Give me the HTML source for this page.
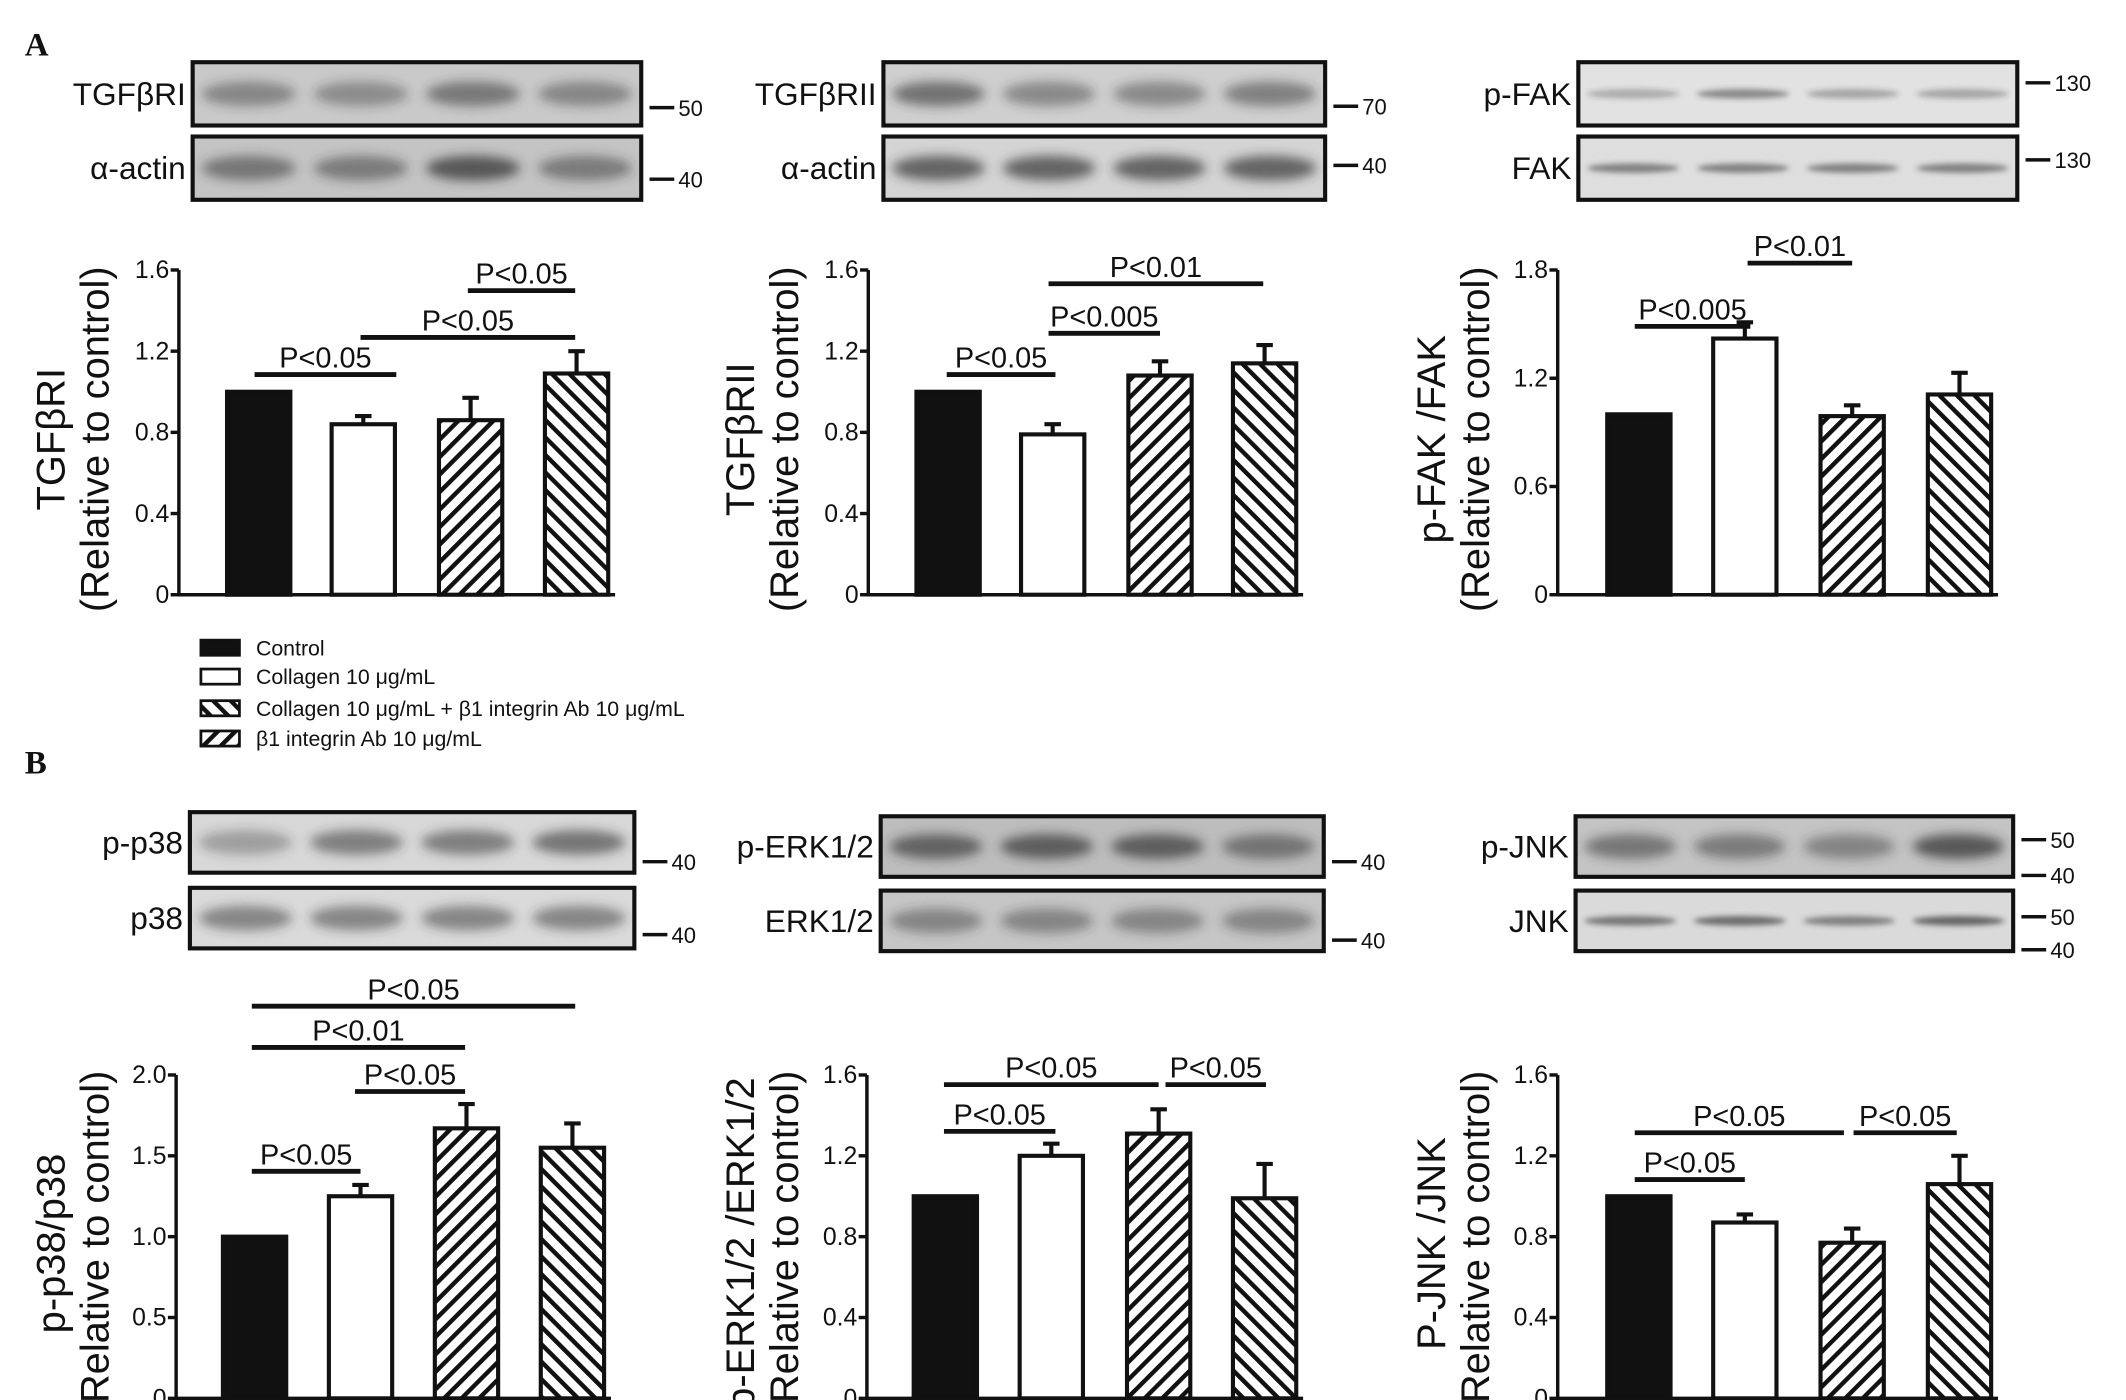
<!DOCTYPE html>
<html><head><meta charset="utf-8">
<style>
html,body{margin:0;padding:0;background:#fff;}
svg{display:block;}
text{font-family:"Liberation Sans",sans-serif;fill:#111;}
.tick{font-size:18px;}
.pv{font-size:21px;}
.ytl{font-size:29px;}
.blab{font-size:23px;}
.mk{font-size:16px;}
.leg{font-size:15.5px;}
.panel{font-family:"Liberation Serif",serif;font-weight:bold;font-size:24px;}
</style></head>
<body>
<svg id="fig" width="2126" height="1400" viewBox="0 0 1545 1017" xmlns="http://www.w3.org/2000/svg">
<defs>
<pattern id="hf" patternUnits="userSpaceOnUse" width="9" height="9" patternTransform="rotate(45)"><rect width="9" height="9" fill="#fff"/><rect width="3.2" height="9" fill="#111"/></pattern>
<pattern id="hb" patternUnits="userSpaceOnUse" width="9" height="9" patternTransform="rotate(-45)"><rect width="9" height="9" fill="#fff"/><rect width="3.2" height="9" fill="#111"/></pattern>
<filter id="blur" x="-20%" y="-50%" width="140%" height="200%"><feGaussianBlur stdDeviation="4"/></filter>
<filter id="blur2" x="-20%" y="-50%" width="140%" height="200%"><feGaussianBlur stdDeviation="2"/></filter>
</defs>
<text class="panel" x="18" y="40">A</text>
<text class="panel" x="18" y="562">B</text>
<g id="legend"></g>
<g id="blots"></g>
<g id="charts"></g>
</svg>
<script>
// ---- chart data ----
const categories = ["Control","Collagen 10 μg/mL","β1 integrin Ab 10 μg/mL","Collagen 10 μg/mL + β1 integrin Ab 10 μg/mL"];
const tgfr1Values = [1.0, 0.84, 0.86, 1.09];
const tgfr1Errors = [0, 0.04, 0.11, 0.11];
const tgfr2Values = [1.0, 0.79, 1.08, 1.14];
const tgfr2Errors = [0, 0.05, 0.07, 0.09];
const fakValues = [1.0, 1.42, 0.99, 1.11];
const fakErrors = [0, 0.09, 0.06, 0.12];
const p38Values = [1.0, 1.25, 1.67, 1.55];
const p38Errors = [0, 0.07, 0.15, 0.15];
const erkValues = [1.0, 1.2, 1.31, 0.99];
const erkErrors = [0, 0.06, 0.12, 0.17];
const jnkValues = [1.0, 0.87, 0.77, 1.06];
const jnkErrors = [0, 0.04, 0.07, 0.14];
const ticks16 = [0, 0.4, 0.8, 1.2, 1.6];
const ticks16Labels = ["0","0.4","0.8","1.2","1.6"];
const ticks18 = [0, 0.6, 1.2, 1.8];
const ticks18Labels = ["0","0.6","1.2","1.8"];
const ticks20 = [0, 0.5, 1.0, 1.5, 2.0];
const ticks20Labels = ["0","0.5","1.0","1.5","2.0"];

const NS="http://www.w3.org/2000/svg";
function mk(tag, attrs, parent){const e=document.createElementNS(NS,tag);for(const k in attrs)e.setAttribute(k,attrs[k]);if(parent)parent.appendChild(e);return e;}
const fills=["#111","#fff","url(#hf)","url(#hb)"];

const charts=[
 {name:"tgfbr1",ax:130,y0:432,top:196,max:1.6,ticks:ticks16,tl:ticks16Labels,vals:tgfr1Values,errs:tgfr1Errors,bx:[165,241,319,396],t1:"TGFβRI",tx:47,
  sig:[[185,288,272,"P<0.05"],[262,418,245,"P<0.05"],[340,418,211,"P<0.05"]]},
 {name:"tgfbr2",ax:631,y0:432,top:196,max:1.6,ticks:ticks16,tl:ticks16Labels,vals:tgfr2Values,errs:tgfr2Errors,bx:[666,742,820,896],t1:"TGFβRII",tx:548,
  sig:[[688,767,272,"P<0.05"],[762,843,242,"P<0.005"],[762,918,206,"P<0.01"]]},
 {name:"pfak",ax:1132,y0:432,top:196,max:1.8,ticks:ticks18,tl:ticks18Labels,vals:fakValues,errs:fakErrors,bx:[1168,1245,1323,1401],t1:"p-FAK /FAK",tx:1050,
  sig:[[1188,1272,237,"P<0.005"],[1270,1346,191,"P<0.01"]]},
 {name:"pp38",ax:128,y0:1016,top:781,max:2.0,ticks:ticks20,tl:ticks20Labels,vals:p38Values,errs:p38Errors,bx:[162,239,316,393],t1:"p-p38/p38",tx:47,
  sig:[[183,418,731,"P<0.05"],[183,338,761,"P<0.01"],[258,338,793,"P<0.05"],[183,262,851,"P<0.05"]]},
 {name:"perk",ax:630,y0:1016,top:781,max:1.6,ticks:ticks16,tl:ticks16Labels,vals:erkValues,errs:erkErrors,bx:[664,741,819,896],t1:"p-ERK1/2 /ERK1/2",tx:548,
  sig:[[686,767,822,"P<0.05"],[686,842,788,"P<0.05"],[847,920,788,"P<0.05"]]},
 {name:"pjnk",ax:1132,y0:1016,top:781,max:1.6,ticks:ticks16,tl:ticks16Labels,vals:jnkValues,errs:jnkErrors,bx:[1168,1245,1323,1401],t1:"P-JNK /JNK",tx:1050,
  sig:[[1188,1268,857,"P<0.05"],[1188,1340,823,"P<0.05"],[1347,1422,823,"P<0.05"]]}
];
const root=document.getElementById("charts");
charts.forEach(c=>{
  const g=mk("g",{},root);
  
  
  const y=v=>c.y0-(v/c.max)*(c.y0-c.top);
  const bw=46;
  c.vals.forEach((v,i)=>{
    const x=c.bx[i];
    const r=mk("rect",{x:x,y:y(v),width:bw,height:c.y0-y(v),fill:fills[i],stroke:"#111","stroke-width":3},g);
    
    
    if(c.errs[i]>0){
      const cx=x+bw/2;
      const e=mk("path",{d:`M${cx},${y(v)} V${y(v+c.errs[i])} M${cx-6},${y(v+c.errs[i])} H${cx+6}`,stroke:"#111","stroke-width":3,fill:"none"},g);
      
      
    }
  });
  const ya=mk("path",{d:`M${c.ax},${c.top} V${c.y0} H${c.bx[3]+bw+5}`,stroke:"#111","stroke-width":2.5,fill:"none"},g);
  
  
  c.ticks.forEach((t,i)=>{
    mk("line",{x1:c.ax-6,x2:c.ax,y1:y(t),y2:y(t),stroke:"#111","stroke-width":2.5},g);
    const tx=mk("text",{x:c.ax-7,y:y(t)+6,"text-anchor":"end",class:"tick"},g);
    tx.textContent=c.tl[i];
    
    
  });
  const mid=(c.top+c.y0)/2;
  const t1=mk("text",{x:0,y:0,transform:`translate(${c.tx},${mid+5}) rotate(-90)`,"text-anchor":"middle",class:"ytl"},g);
  t1.textContent=c.t1;
  
  
  const t2=mk("text",{x:0,y:0,transform:`translate(${c.tx+32},${mid+5}) rotate(-90)`,"text-anchor":"middle",class:"ytl"},g);
  t2.textContent="(Relative to control)";
  
  
  c.sig.forEach(s=>{
    const l=mk("line",{x1:s[0],x2:s[1],y1:s[2],y2:s[2],stroke:"#111","stroke-width":3.5},g);
    
    
    const t=mk("text",{x:(s[0]+s[1])/2,y:s[2]-5,"text-anchor":"middle",class:"pv"},g);
    t.textContent=s[3];
    
    
  });
});

const blotRoot=document.getElementById("blots");
const blots=[
 {n:"tgfbr1-blot",x:140,y:45,w:326,h:46,lab:"TGFβRI",dark:[0.45,0.4,0.55,0.45],bg:"#c9c9c9",marks:[[78,"50"]]},
 {n:"actin-blot-1",x:140,y:99,w:326,h:46,lab:"α-actin",dark:[0.55,0.5,0.75,0.5],bg:"#c4c4c4",marks:[[130,"40"]]},
 {n:"tgfbr2-blot",x:642,y:45,w:321,h:46,lab:"TGFβRII",dark:[0.6,0.45,0.45,0.5],bg:"#cfcfcf",marks:[[77,"70"]]},
 {n:"actin-blot-2",x:642,y:99,w:321,h:46,lab:"α-actin",dark:[0.7,0.7,0.7,0.7],bg:"#d4d4d4",marks:[[120,"40"]]},
 {n:"pfak-blot",x:1147,y:45,w:319,h:46,lab:"p-FAK",dark:[0.3,0.5,0.35,0.35],bg:"#e2e2e2",marks:[[60,"130"]],thin:true},
 {n:"fak-blot",x:1147,y:99,w:319,h:46,lab:"FAK",dark:[0.55,0.55,0.55,0.55],bg:"#dedede",marks:[[116,"130"]],thin:true},
 {n:"pp38-blot",x:138,y:590,w:323,h:44,lab:"p-p38",dark:[0.35,0.55,0.55,0.6],bg:"#d8d8d8",marks:[[626,"40"]]},
 {n:"p38-blot",x:138,y:645,w:323,h:44,lab:"p38",dark:[0.5,0.5,0.5,0.5],bg:"#dadada",marks:[[679,"40"]]},
 {n:"perk-blot",x:640,y:593,w:322,h:44,lab:"p-ERK1/2",dark:[0.65,0.7,0.7,0.55],bg:"#bdbdbd",marks:[[626,"40"]]},
 {n:"erk-blot",x:640,y:647,w:322,h:44,lab:"ERK1/2",dark:[0.45,0.45,0.45,0.45],bg:"#c6c6c6",marks:[[683,"40"]]},
 {n:"pjnk-blot",x:1145,y:593,w:318,h:44,lab:"p-JNK",dark:[0.55,0.5,0.45,0.75],bg:"#c4c4c4",marks:[[610,"50"],[636,"40"]]},
 {n:"jnk-blot",x:1145,y:647,w:318,h:44,lab:"JNK",dark:[0.6,0.65,0.55,0.7],bg:"#dadada",marks:[[666,"50"],[690,"40"]],thin:true}
];
blots.forEach(b=>{
  const g=mk("g",{},blotRoot);
  
  
  mk("rect",{x:b.x,y:b.y,width:b.w,height:b.h,fill:b.bg},g);
  const lw=b.w/4;
  b.dark.forEach((d,i)=>{
    const cx=b.x+lw*i+lw/2;
    mk("ellipse",{cx:cx,cy:b.y+b.h/2,rx:lw*0.42,ry:b.thin?3.5:9,fill:"#333","fill-opacity":d,filter:b.thin?"url(#blur2)":"url(#blur)"},g);
  });
  mk("rect",{x:b.x,y:b.y,width:b.w,height:b.h,fill:"none",stroke:"#111","stroke-width":3},g);
  const t=mk("text",{x:b.x-5,y:b.y+b.h/2+8,"text-anchor":"end",class:"blab"},g);
  t.textContent=b.lab;
  
  
  b.marks.forEach(m=>{
    mk("line",{x1:b.x+b.w+6,x2:b.x+b.w+24,y1:m[0],y2:m[0],stroke:"#111","stroke-width":2.5},g);
    const mt=mk("text",{x:b.x+b.w+27,y:m[0]+6,class:"mk"},g);
    mt.textContent=m[1];
    
    
  });
});

const lg=document.getElementById("legend");
const legRows=[[472,"#111",categories[0]],[493,"#fff",categories[1]],[516,"url(#hb)",categories[3]],[538,"url(#hf)",categories[2]]];
legRows.forEach((r,i)=>{
  const s=mk("rect",{x:146,y:r[0]-7,width:28,height:11,fill:r[1],stroke:"#111","stroke-width":2},lg);
  
  
  const t=mk("text",{x:186,y:r[0]+4,class:"leg"},lg);
  t.textContent=r[2];
  
  
});
</script>
</body></html>
